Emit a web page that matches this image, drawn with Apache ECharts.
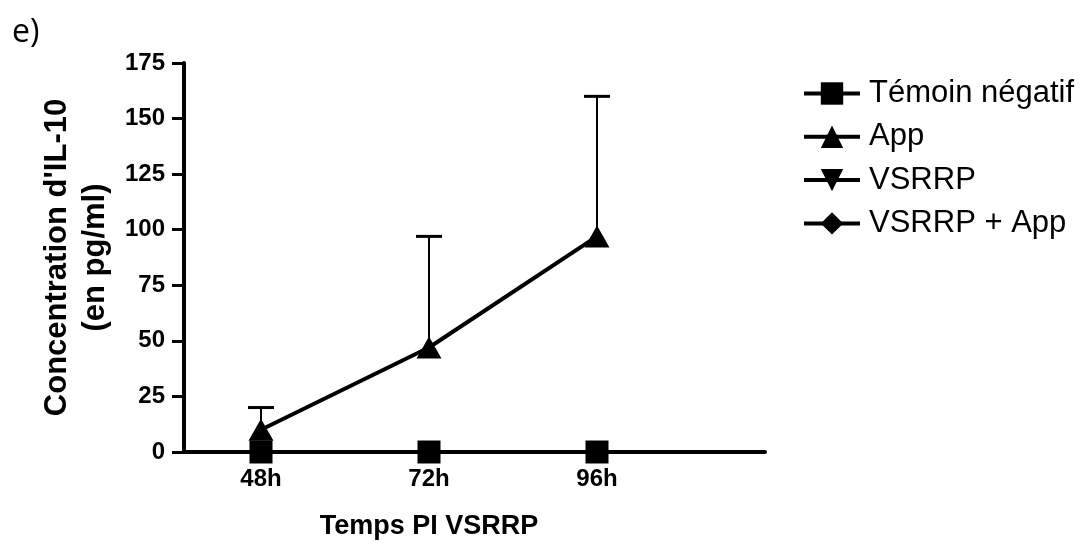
<!DOCTYPE html>
<html>
<head>
<meta charset="utf-8">
<script src="https://cdn.jsdelivr.net/npm/echarts@6/dist/echarts.min.js"></script>
<style>
  html, body { margin: 0; padding: 0; background: #ffffff; }
  #chart { width: 1081px; height: 546px; }
</style>
</head>
<body>
<div id="chart"></div>
<script>
// Time points after VSRRP inoculation (hours) and their labels
const hours = [48, 72, 96];
const hourLabels = ['48h', '72h', '96h'];

// IL-10 concentration (pg/ml) per group
const temoinNegatif = [0, 0, 0];
const appMean = [10, 47, 97];
const appSd = [10, 50, 63];      // upper error bar only
const vsrrp = [0, 0, 0];
const vsrrpApp = [0, 0, 0];

const seriesNames = ['Témoin négatif', 'App', 'VSRRP', 'VSRRP + App'];

const FONT = 'Liberation Sans, Arial, sans-serif';
const pairs = vals => hours.map((h, i) => [h, vals[i]]);

const chart = echarts.init(document.getElementById('chart'), null, { renderer: 'canvas' });

const option = {
  backgroundColor: '#ffffff',
  animation: false,
  grid: { left: 184, right: 316, top: 63, bottom: 94, containLabel: false },
  legend: {
    orient: 'vertical',
    left: 802,
    top: 78,
    padding: 0,
    itemWidth: 56,
    itemHeight: 28,
    itemGap: 12.3,
    selectedMode: false,
    data: seriesNames,
    lineStyle: { width: 4, color: '#000' },
    textStyle: { fontFamily: FONT, fontSize: 31, color: '#000', lineHeight: 30, padding: [0, 0, 0, 4] }
  },
  xAxis: {
    type: 'value',
    min: 37,
    max: 120,
    splitLine: { show: false },
    axisLine: { show: true, onZero: false, lineStyle: { color: '#000', width: 4 } },
    axisTick: { show: true, inside: false, customValues: hours, length: 10, lineStyle: { color: '#000', width: 2 } },
    axisLabel: {
      customValues: hours,
      margin: 15,
      color: '#000',
      fontFamily: FONT,
      fontWeight: 'bold',
      fontSize: 24,
      formatter: v => hourLabels[hours.indexOf(v)]
    }
  },
  yAxis: {
    type: 'value',
    min: 0,
    max: 175,
    interval: 25,
    name: "Concentration d'IL-10\n(en pg/ml)",
    nameLocation: 'middle',
    nameGap: 69,
    nameTextStyle: { fontFamily: FONT, fontWeight: 'bold', fontSize: 31, color: '#000', lineHeight: 38 },
    splitLine: { show: false },
    axisLine: { show: true, lineStyle: { color: '#000', width: 4 } },
    axisTick: { show: true, inside: false, length: 12, lineStyle: { color: '#000', width: 3 } },
    axisLabel: { margin: 19, color: '#000', fontFamily: FONT, fontWeight: 'bold', fontSize: 24 }
  },
  series: [
    {
      name: 'VSRRP + App', type: 'line', data: pairs(vsrrpApp), z: 1,
      symbol: 'diamond', symbolSize: [20, 22],
      lineStyle: { color: '#000', width: 4 }, itemStyle: { color: '#000' }
    },
    {
      name: 'VSRRP', type: 'line', data: pairs(vsrrp), z: 1,
      symbol: 'triangle', symbolRotate: 180, symbolSize: [22, 20],
      lineStyle: { color: '#000', width: 4 }, itemStyle: { color: '#000' }
    },
    {
      name: 'App error', type: 'custom', z: 2,
      data: hours.map((h, i) => [h, appMean[i], appMean[i] + appSd[i]]),
      encode: { x: 0, y: [1, 2] },
      renderItem: (params, api) => {
        const x = api.value(0);
        const p0 = api.coord([x, api.value(1)]);
        const p1 = api.coord([x, api.value(2)]);
        return {
          type: 'group',
          children: [
            { type: 'line', shape: { x1: p0[0], y1: p0[1], x2: p1[0], y2: p1[1] },
              style: { stroke: '#000', lineWidth: 2 } },
            { type: 'line', shape: { x1: p1[0] - 13, y1: p1[1], x2: p1[0] + 13, y2: p1[1] },
              style: { stroke: '#000', lineWidth: 3 } }
          ]
        };
      }
    },
    {
      name: 'Témoin négatif', type: 'line', data: pairs(temoinNegatif), z: 3,
      symbol: 'rect', symbolSize: 23,
      lineStyle: { color: '#000', width: 4 }, itemStyle: { color: '#000' }
    },
    {
      name: 'App', type: 'line', data: pairs(appMean), z: 4,
      symbol: 'triangle', symbolSize: [25, 22],
      lineStyle: { color: '#000', width: 4 }, itemStyle: { color: '#000' }
    }
  ]
};

chart.setOption(option);

// Panel letter and x-axis title (centred under the middle time point)
const midX = chart.convertToPixel({ xAxisIndex: 0 }, hours[1]);
chart.setOption({
  graphic: [
    {
      type: 'text', left: 12, top: 17,
      style: { text: 'e)', fontFamily: 'Open Sans, sans-serif', fontSize: 32, fill: '#000' }
    },
    {
      type: 'text', x: midX, y: 527,
      style: { text: 'Temps PI VSRRP', fontFamily: FONT, fontWeight: 'bold', fontSize: 27,
               fill: '#000', align: 'center', verticalAlign: 'middle' }
    }
  ]
});
</script>
</body>
</html>
